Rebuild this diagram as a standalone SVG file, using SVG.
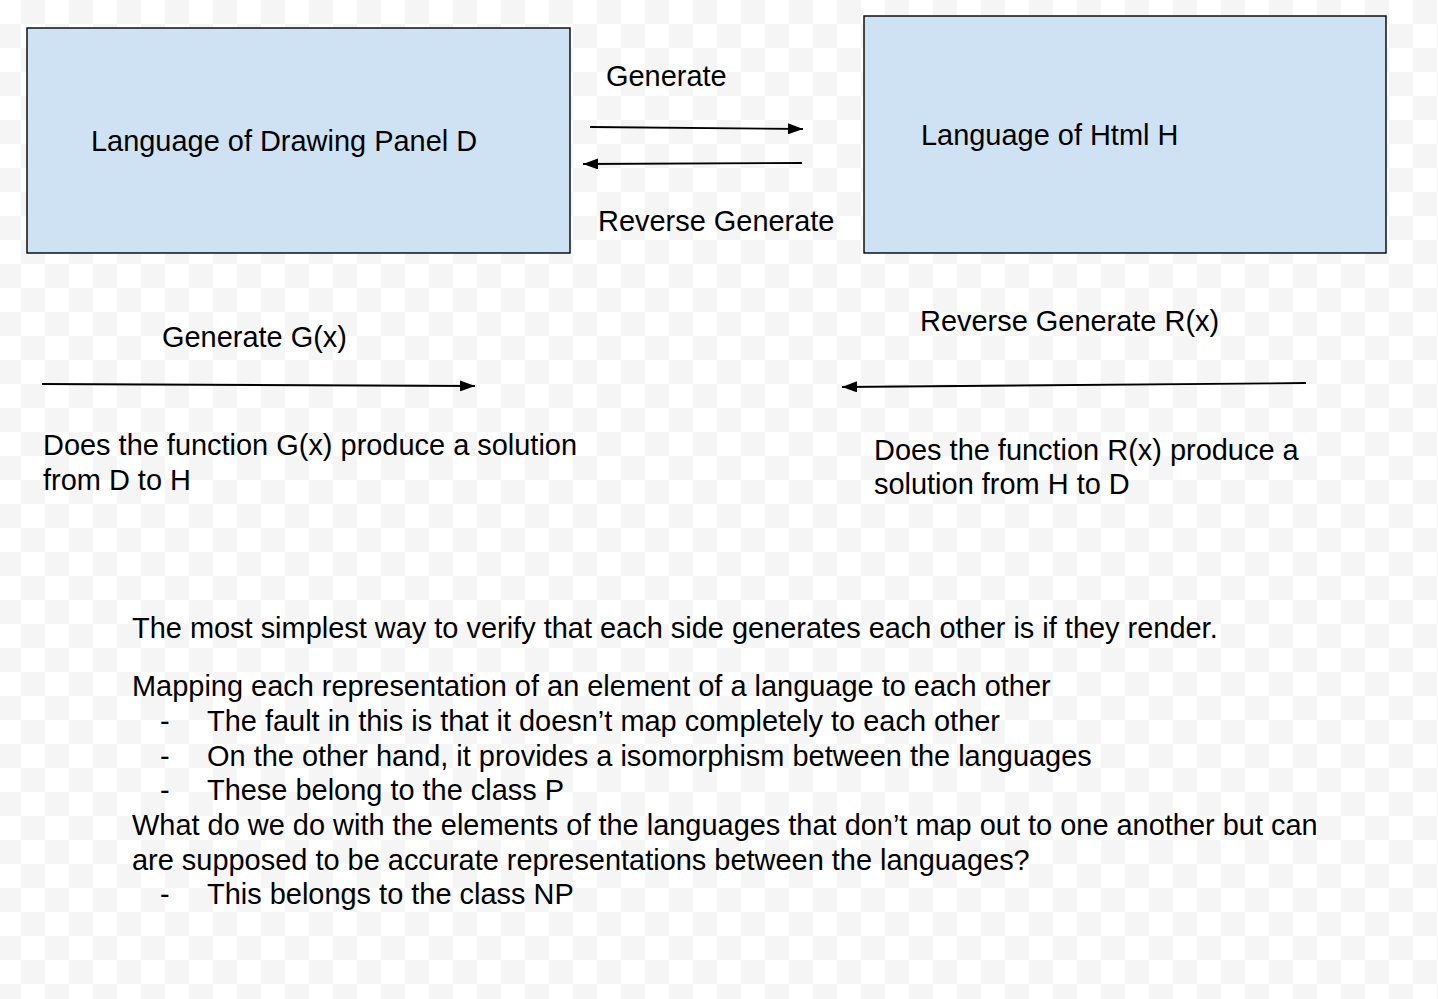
<svg xmlns="http://www.w3.org/2000/svg" width="1438" height="999" viewBox="0 0 1438 999">
<style>
text{font-family:"Liberation Sans",Arial,sans-serif;font-size:28.95px;fill:#000}
.box{fill:#cfe2f3;stroke:#000;stroke-width:1.4}
.conn{stroke:#000;stroke-width:1.8;fill:none;marker-end:url(#ah)}
</style>
<defs>
<pattern id="chk" x="-3" y="0" width="48" height="48" patternUnits="userSpaceOnUse">
<rect width="48" height="48" fill="#ffffff"/>
<rect x="24" y="0" width="24" height="24" fill="#f5f5f5"/>
<rect x="0" y="24" width="24" height="24" fill="#f5f5f5"/>
</pattern>
<marker id="ah" markerUnits="userSpaceOnUse" markerWidth="15" markerHeight="11" refX="15" refY="5.5" orient="auto">
<path d="M0,0 L15,5.5 L0,11 z" fill="#000"/>
</marker>
</defs>
<rect width="1438" height="999" fill="url(#chk)"/>
<g id="nodeD">
<rect class="box" x="27" y="28" width="543" height="225"/>
<text x="91" y="151">Language of Drawing Panel D</text>
</g>
<g id="nodeH">
<rect class="box" x="864" y="16" width="522" height="237"/>
<text x="921" y="145">Language of Html H</text>
</g>
<g id="connectors">
<line class="conn" x1="590" y1="127" x2="803" y2="129"/>
<line class="conn" x1="802" y1="163" x2="583" y2="164"/>
<line class="conn" x1="42" y1="384" x2="475" y2="386"/>
<line class="conn" x1="1306" y1="383" x2="842" y2="387"/>
</g>
<g id="labels">
<text x="606" y="86">Generate</text>
<text x="598" y="231">Reverse Generate</text>
<text x="162" y="347">Generate G(x)</text>
<text x="920" y="331">Reverse Generate R(x)</text>
<text x="43" y="455">Does the function G(x) produce a solution</text>
<text x="43" y="490">from D to H</text>
<text x="874" y="460">Does the function R(x) produce a</text>
<text x="874" y="494">solution from H to D</text>
</g>
<g id="notes">
<text x="132" y="638">The most simplest way to verify that each side generates each other is if they render.</text>
<text x="132" y="696">Mapping each representation of an element of a language to each other</text>
<text x="160" y="731">-</text>
<text x="207" y="731">The fault in this is that it doesn’t map completely to each other</text>
<text x="160" y="766">-</text>
<text x="207" y="766">On the other hand, it provides a isomorphism between the languages</text>
<text x="160" y="800">-</text>
<text x="207" y="800">These belong to the class P</text>
<text x="132" y="835">What do we do with the elements of the languages that don’t map out to one another but can</text>
<text x="132" y="870">are supposed to be accurate representations between the languages?</text>
<text x="160" y="904">-</text>
<text x="207" y="904">This belongs to the class NP</text>
</g>
</svg>
